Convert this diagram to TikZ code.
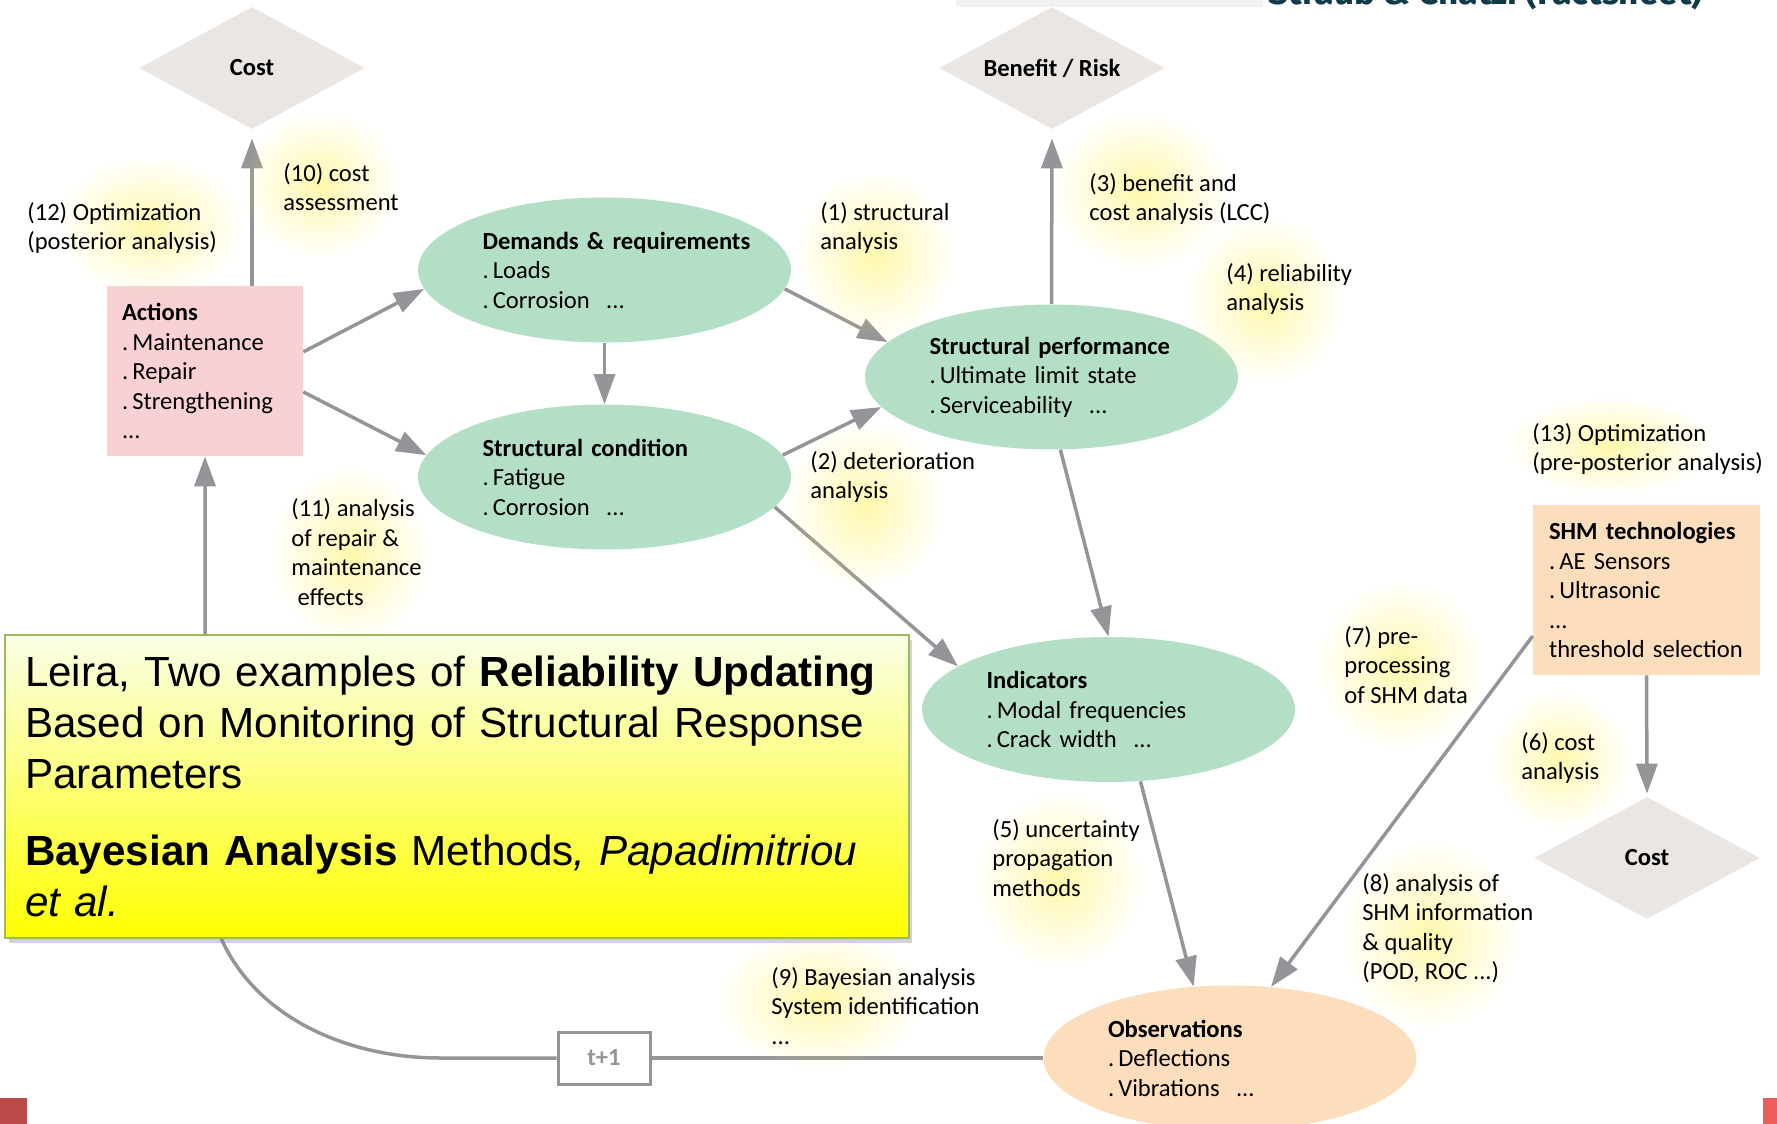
\documentclass[tikz,border=0pt]{standalone}
\usepackage{fontspec}
\setmainfont{Carlito}
\newfontfamily\titlefont{Liberation Sans}
\newfontfamily\hdrfont{Fira Sans}
\usepackage{tikz}
\usetikzlibrary{shapes.geometric}
\usetikzlibrary{arrows.meta}
\usetikzlibrary{fadings}
\usetikzlibrary{shadows}
\frenchspacing
\definecolor{ellgreen}{RGB}{179,223,199}
\definecolor{pinkbox}{RGB}{249,209,213}
\definecolor{peach}{RGB}{252,221,188}
\definecolor{diagray}{RGB}{233,230,228}
\definecolor{arrowgray}{RGB}{148,149,153}
\definecolor{boxgreen}{RGB}{155,187,89}
\definecolor{paleyellow}{RGB}{250,255,232}
\definecolor{glowyellow}{RGB}{255,240,90}
\definecolor{hdrteal}{RGB}{16,58,72}
\definecolor{redA}{RGB}{185,74,72}
\definecolor{redB}{RGB}{234,94,94}
\tikzfading[name=glowfade, inner color=transparent!50, outer color=transparent!100]

\begin{document}
\begin{tikzpicture}[x=0.02cm, y=-0.02cm,
  every node/.style={font=\fontsize{14}{16.8}\selectfont},
  dia/.style={diamond, aspect=1.85, fill=diagray, minimum width=4.52cm, minimum height=2.44cm, inner sep=0pt, font=\fontsize{14}{16.8}\selectfont\bfseries},
  ell/.style={ellipse, fill=ellgreen, minimum width=7.46cm, minimum height=2.9cm, inner sep=0pt, text width=4.88cm, align=left},
  actbox/.style={rectangle, fill=pinkbox, minimum width=3.92cm, minimum height=3.4cm, inner xsep=0.3cm, text width=3.32cm, align=left},
  shmbox/.style={rectangle, fill=peach, minimum width=4.54cm, minimum height=3.4cm, inner xsep=0.32cm, text width=3.9cm, align=left},
  stepbox/.style={rectangle, draw=arrowgray, line width=0.06cm, fill=white, minimum width=1.84cm, minimum height=1.04cm, text=arrowgray, font=\fontsize{14}{16.8}\selectfont\bfseries},
  lbl/.style={anchor=west, inner sep=0pt, align=left},
  flow/.style={draw=arrowgray, line width=0.07cm, -{Triangle[length=0.6cm, width=0.42cm]}},
  glowspot/.style={fill=glowyellow, path fading=glowfade}]
\useasboundingbox (0,0) rectangle (1777,1124);
\clip (0,0) rectangle (1777,1124);

\fill[gray!10] (956,0) rectangle (1263,7);
\node[anchor=base west, inner sep=0pt, text=hdrteal, font=\hdrfont\bfseries\fontsize{20}{24}\selectfont] (hdr) at (1268,5) {Straub \& Chatzi (Factsheet)};

\node[dia] (costA) at (252,68) {Cost};
\node[dia] (benefit) at (1052,68) {Benefit / Risk};
\node[dia] (costB) at (1647,858) {Cost};

\node[actbox] (actions) at (205,371) {\textbf{Actions}\\.\,Maintenance\\.\,Repair\\.\,Strengthening\\...};
\node[shmbox] (shm) at (1646.5,590) {\mbox{\textbf{SHM technologies}}\\.\,AE Sensors\\.\,Ultrasonic\\...\\threshold selection};

\node[ell] (demands) at (604.5,270) {\mbox{\textbf{Demands \& requirements}}\\.\,Loads\\.\,Corrosion\ \ ...};
\node[ell] (cond) at (604.5,477) {\mbox{\textbf{Structural condition}}\\.\,Fatigue\\.\,Corrosion\ \ ...};
\node[ell] (perf) at (1051.5,377) {\mbox{\textbf{Structural performance}}\\.\,Ultimate limit state\\.\,Serviceability\ \ ...};
\node[ell] (ind) at (1108.5,709.5) {\textbf{Indicators}\\.\,Modal frequencies\\.\,Crack width\ \ ...};
\node[ell, fill=peach] (obs) at (1230,1058) {\textbf{Observations}\\.\,Deflections\\.\,Vibrations\ \ ...};

\node[stepbox] (tplus) at (604,1058) {t+1};

\draw[flow, shorten >=0.18cm] (costA.south |- actions.north) -- (costA.south);
\draw[flow] (actions.11) -- (demands.186);
\draw[flow] (actions.-12) -- (cond.173);
\draw[flow] (demands.south) -- (cond.north);
\draw[flow] (demands.-6) -- (perf.168);
\draw[flow] (cond.7) -- (perf.190);
\draw[flow, shorten >=0.18cm] (perf.north) -- (benefit.south);
\draw[flow] (perf.-83) -- (ind.north);
\draw[flow] (cond.-10) -- (ind.164);
\draw[flow] (ind.-66) -- (obs.117);
\draw[flow] (shm.202) -- (obs.60);
\draw[flow, shorten >=0.06cm] (shm.south) -- (costB.north);
\draw[draw=arrowgray, line width=0.07cm] (obs.west) -- (tplus.east);
\draw[flow] (tplus.west) -- (440,1058) .. controls (330,1058) and (212,1000) .. (actions.south |- 0,870) -- (actions.south);

\fill[glowspot] (150,225) ellipse (1.9cm and 1.4cm);
\fill[glowspot] (320,185) ellipse (1.6cm and 1.5cm);
\fill[glowspot] (875,255) ellipse (1.6cm and 1.7cm);
\fill[glowspot] (1140,190) ellipse (1.8cm and 1.6cm);
\fill[glowspot] (1265,300) ellipse (1.6cm and 1.7cm);
\fill[glowspot] (865,505) ellipse (1.6cm and 1.7cm);
\fill[glowspot] (350,555) ellipse (1.6cm and 1.8cm);
\fill[glowspot] (1610,445) ellipse (2.1cm and 1cm);
\fill[glowspot] (1400,665) ellipse (1.7cm and 1.7cm);
\fill[glowspot] (1560,760) ellipse (1.4cm and 1.4cm);
\fill[glowspot] (1060,880) ellipse (1.7cm and 1.8cm);
\fill[glowspot] (1430,935) ellipse (1.8cm and 1.9cm);
\fill[glowspot] (820,1000) ellipse (2.1cm and 1.4cm);

\node[lbl] (lab12) at (27,228) {(12) Optimization\\(posterior analysis)};
\node[lbl] (lab10) at (283,187) {(10) cost\\assessment};
\node[lbl] (lab1) at (820,228) {(1) structural\\analysis};
\node[lbl] (lab3) at (1089,199) {(3) benefit and\\cost analysis (LCC)};
\node[lbl] (lab4) at (1226,289) {(4) reliability\\analysis};
\node[lbl] (lab2) at (810,477) {(2) deterioration\\analysis};
\node[lbl] (lab11) at (291,552) {(11) analysis\\of repair \&\\maintenance\\\hspace{0.25em}effects};
\node[lbl] (lab13) at (1532,449) {(13) Optimization\\(pre-posterior analysis)};
\node[lbl] (lab7) at (1344,665) {(7) pre-\\processing\\of SHM data};
\node[lbl] (lab6) at (1521,758) {(6) cost\\analysis};
\node[lbl] (lab5) at (992,858) {(5) uncertainty\\propagation\\methods};
\node[lbl] (lab8) at (1362,928) {(8) analysis of\\SHM information\\\& quality\\(POD, ROC ...)};
\node[lbl] (lab9) at (771,1006) {(9) Bayesian analysis\\System identification\\...};

\node[rectangle, draw=boxgreen, line width=0.04cm, top color=paleyellow, bottom color=yellow, drop shadow={shadow xshift=2pt, shadow yshift=-3pt, opacity=0.35}, minimum width=18.08cm, minimum height=6.06cm, inner xsep=0.4cm, text width=17.28cm, align=left, font=\titlefont\fontsize{24}{29}\selectfont] (title) at (457,786.5) {Leira, Two examples of \textbf{Reliability Updating}\\Based on Monitoring of Structural Response\\Parameters\\[15pt]\textbf{Bayesian Analysis} Methods\textit{, Papadimitriou}\\\textit{et al.}};

\fill[redA] (0,1098) rectangle (27,1124);
\fill[redB] (1763,1098) rectangle (1777,1124);
\end{tikzpicture}
\end{document}
